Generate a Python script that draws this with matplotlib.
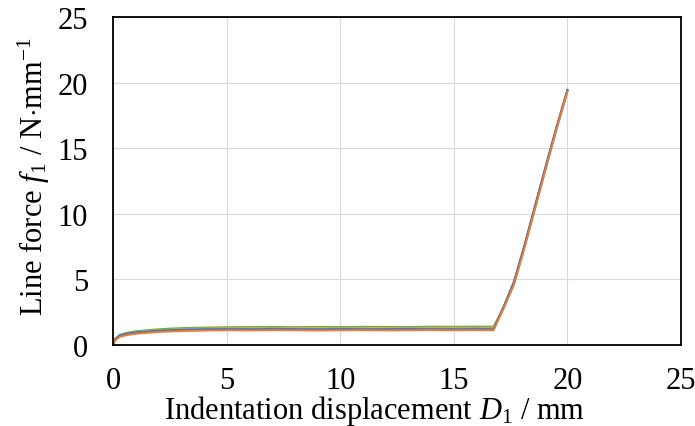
import matplotlib
matplotlib.use("Agg")
import matplotlib.pyplot as plt

plt.rcParams["font.family"] = ["Liberation Serif", "DejaVu Serif"]
plt.rcParams["mathtext.fontset"] = "custom"
plt.rcParams["mathtext.rm"] = "Liberation Serif"
plt.rcParams["mathtext.it"] = "Liberation Serif:italic"

# indentation displacement D1 (mm), shared by all specimens
disp = [0, 0.1, 0.3, 0.6, 1.0, 1.5, 2.0, 2.5, 3.0, 4.0, 5.0, 6.0, 7.0, 8.0, 9.0,
        10.0, 11.0, 12.0, 13.0, 14.0, 15.0, 16.0, 16.75, 17.2, 17.65, 18.1,
        18.55, 19.0, 19.5, 20.0]

# line force f1 (N/mm) per specimen
f_blue = [0, 0.45, 0.72, 0.85, 0.95, 1.02, 1.08, 1.12, 1.15, 1.18, 1.20, 1.19,
          1.22, 1.20, 1.18, 1.21, 1.19, 1.20, 1.22, 1.20, 1.19, 1.21, 1.20,
          2.95, 4.85, 7.55, 10.45, 13.35, 16.50, 19.45]
f_orange = [0, 0.35, 0.62, 0.75, 0.85, 0.93, 0.99, 1.03, 1.06, 1.10, 1.12, 1.11,
            1.13, 1.12, 1.10, 1.12, 1.13, 1.11, 1.12, 1.14, 1.12, 1.13, 1.12,
            2.80, 4.60, 7.30, 10.20, 13.10, 16.30, 19.30]
f_gray = [0, 0.40, 0.68, 0.82, 0.93, 1.00, 1.06, 1.11, 1.15, 1.20, 1.23, 1.24,
          1.22, 1.25, 1.24, 1.23, 1.25, 1.24, 1.26, 1.24, 1.25, 1.26, 1.25,
          2.90, 4.75, 7.45, 10.35, 13.25, 16.40, 19.40]
f_yellow = [0, 0.42, 0.70, 0.84, 0.96, 1.04, 1.10, 1.15, 1.19, 1.24, 1.27, 1.28,
            1.27, 1.29, 1.28, 1.27, 1.29, 1.30, 1.28, 1.30, 1.29, 1.31, 1.30,
            2.85, 4.70, 7.40, 10.30, 13.20, 16.35, 19.35]
f_lblue = [0, 0.43, 0.70, 0.83, 0.94, 1.01, 1.07, 1.12, 1.16, 1.21, 1.24, 1.23,
           1.25, 1.24, 1.22, 1.25, 1.24, 1.23, 1.25, 1.24, 1.23, 1.25, 1.24,
           2.92, 4.80, 7.50, 10.40, 13.30, 16.45, 19.40]
f_green = [0, 0.48, 0.78, 0.93, 1.05, 1.13, 1.20, 1.25, 1.29, 1.33, 1.36, 1.37,
           1.38, 1.36, 1.38, 1.37, 1.39, 1.38, 1.37, 1.40, 1.39, 1.41, 1.40,
           2.90, 4.75, 7.50, 10.40, 13.30, 16.45, 19.40]

series = [
    (f_green, "#70AD47"),
    (f_yellow, "#FFC000"),
    (f_gray, "#A5A5A5"),
    (f_lblue, "#5B9BD5"),
    (f_blue, "#4472C4"),
    (f_orange, "#ED7D31"),
]

fig = plt.figure(figsize=(6.95, 4.27), dpi=100)
ax = fig.add_axes([0.1626, 0.1897, 0.8173, 0.7681])

for y, c in series:
    ax.plot(disp, y, color=c, lw=1.4)

ax.set_xlim(0, 25)
ax.set_ylim(0, 25)
ax.set_xticks([0, 5, 10, 15, 20, 25])
ax.set_yticks([0, 5, 10, 15, 20, 25])
ax.grid(True, color="#D9D9D9", lw=0.8)
ax.set_axisbelow(True)
for s in ax.spines.values():
    s.set_color("black")
    s.set_linewidth(1.3)

ax.tick_params(axis="both", length=0, labelsize=22)
ax.tick_params(axis="x", pad=15)
ax.tick_params(axis="y", pad=18)

ax.set_xlabel(r"Indentation displacement $\it{D}_{1}$ / mm", fontsize=22)
ax.set_ylabel(r"Line force $\it{f}_{1}$ / N$\cdot$mm$^{-1}$", fontsize=22)
ax.xaxis.set_label_coords(0.461, -0.147)
ax.yaxis.set_label_coords(-0.108, 0.517)

fig.savefig("out.png", dpi=100)
